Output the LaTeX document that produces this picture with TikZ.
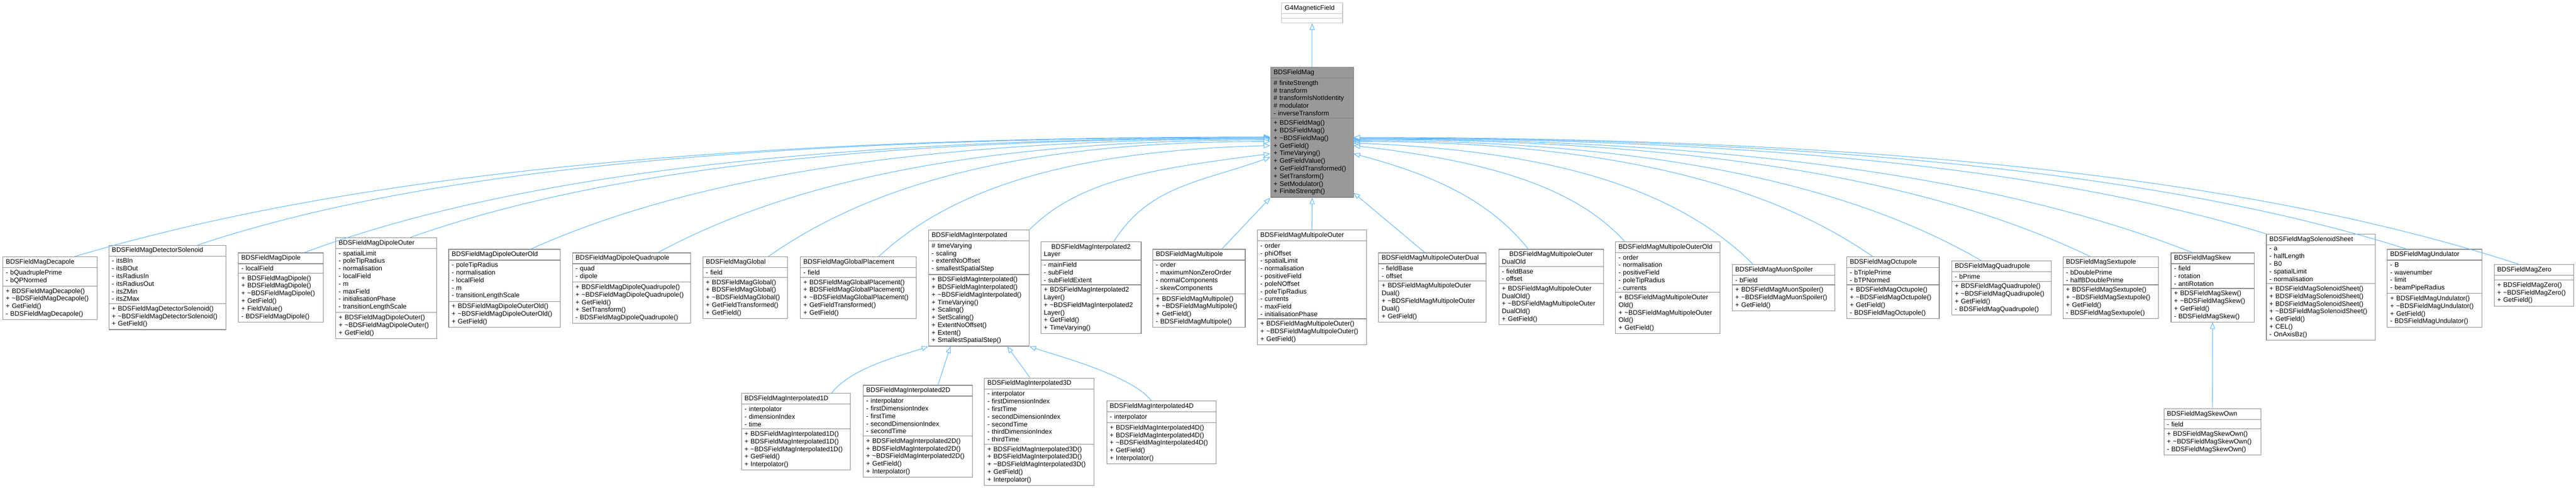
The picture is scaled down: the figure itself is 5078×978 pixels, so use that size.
\documentclass[tikz,border=0pt]{standalone}
\usepackage{fontspec}
\setmainfont{Liberation Sans}
\usetikzlibrary{shapes.multipart,arrows.meta}
\definecolor{edgec}{HTML}{63B8FF}
\definecolor{boxc}{HTML}{888888}
\newcommand\tl{\textasciitilde}
\tikzset{
 cls/.style={rectangle split, rectangle split parts=3, draw=boxc, fill=white, line width=1.2pt,
   text width=#1, inner xsep=6pt, inner ysep=4pt, font=\fontsize{13}{15}\selectfont, align=left, anchor=north west},
 inh/.style={draw=edgec, line width=1.1pt, -{Triangle[open,length=13pt,width=10pt,fill=white]}}
}
\newcommand\cls[8][]{\pgfmathsetmacro\tw{#4-12}%
 \node[cls=\tw pt,#1] (#2) at (#3,#5) {\centering #6\nodepart{two}#7\nodepart{three}#8};}
\begin{document}
\begin{tikzpicture}[x=1pt,y=-1pt]
\useasboundingbox (0,0) rectangle (5078,978);
\cls[draw=boxc!50]{g4}{2526}{120}{5}{G4MagneticField}{\mbox{}}{\mbox{}}
\cls[fill=gray!80,draw=gray]{fm}{2504}{164}{132}{BDSFieldMag}{\# finiteStrength\\\# transform\\\# transformIsNotIdentity\\\# modulator\\- inverseTransform}{+ BDSFieldMag()\\+ BDSFieldMag()\\+ \tl BDSFieldMag()\\+ GetField()\\+ TimeVarying()\\+ GetFieldValue()\\+ GetFieldTransformed()\\+ SetTransform()\\+ SetModulator()\\+ FiniteStrength()}
\cls{dec}{5}{186}{506}{BDSFieldMagDecapole}{- bQuadruplePrime\\- bQPNormed}{+ BDSFieldMagDecapole()\\+ \tl BDSFieldMagDecapole()\\+ GetField()\\- BDSFieldMagDecapole()}
\cls{det}{214}{231}{483}{BDSFieldMagDetectorSolenoid}{- itsBIn\\- itsBOut\\- itsRadiusIn\\- itsRadiusOut\\- itsZMin\\- itsZMax}{+ BDSFieldMagDetectorSolenoid()\\+ \tl BDSFieldMagDetectorSolenoid()\\+ GetField()}
\cls{dip}{469}{168}{498}{BDSFieldMagDipole}{- localField}{+ BDSFieldMagDipole()\\+ BDSFieldMagDipole()\\+ \tl BDSFieldMagDipole()\\+ GetField()\\+ FieldValue()\\- BDSFieldMagDipole()}
\cls{dipo}{661}{199}{468}{BDSFieldMagDipoleOuter}{- spatialLimit\\- poleTipRadius\\- normalisation\\- localField\\- m\\- maxField\\- initialisationPhase\\- transitionLengthScale}{+ BDSFieldMagDipoleOuter()\\+ \tl BDSFieldMagDipoleOuter()\\+ GetField()}
\cls{dipoo}{884}{220}{491}{BDSFieldMagDipoleOuterOld}{- poleTipRadius\\- normalisation\\- localField\\- m\\- transitionLengthScale}{+ BDSFieldMagDipoleOuterOld()\\+ \tl BDSFieldMagDipoleOuterOld()\\+ GetField()}
\cls{dq}{1128}{233}{498}{BDSFieldMagDipoleQuadrupole}{- quad\\- dipole}{+ BDSFieldMagDipoleQuadrupole()\\+ \tl BDSFieldMagDipoleQuadrupole()\\+ GetField()\\+ SetTransform()\\- BDSFieldMagDipoleQuadrupole()}
\cls{glo}{1385}{167}{506}{BDSFieldMagGlobal}{- field}{+ BDSFieldMagGlobal()\\+ BDSFieldMagGlobal()\\+ \tl BDSFieldMagGlobal()\\+ GetFieldTransformed()\\+ GetField()}
\cls{glp}{1577}{229}{506}{BDSFieldMagGlobalPlacement}{- field}{+ BDSFieldMagGlobalPlacement()\\+ BDSFieldMagGlobalPlacement()\\+ \tl BDSFieldMagGlobalPlacement()\\+ GetFieldTransformed()\\+ GetField()}
\cls{int}{1830}{198}{453}{BDSFieldMagInterpolated}{\# timeVarying\\- scaling\\- extentNoOffset\\- smallestSpatialStep}{+ BDSFieldMagInterpolated()\\+ BDSFieldMagInterpolated()\\+ \tl BDSFieldMagInterpolated()\\+ TimeVarying()\\+ Scaling()\\+ SetScaling()\\+ ExtentNoOffset()\\+ Extent()\\+ SmallestSpatialStep()}
\cls{i2l}{2051}{198}{476}{BDSFieldMagInterpolated2\\Layer}{- mainField\\- subField\\- subFieldExtent}{+ BDSFieldMagInterpolated2\\Layer()\\+ \tl BDSFieldMagInterpolated2\\Layer()\\+ GetField()\\+ TimeVarying()}
\cls{mp}{2272}{182}{491}{BDSFieldMagMultipole}{- order\\- maximumNonZeroOrder\\- normalComponents\\- skewComponents}{+ BDSFieldMagMultipole()\\+ \tl BDSFieldMagMultipole()\\+ GetField()\\- BDSFieldMagMultipole()}
\cls{mpo}{2478}{215}{453}{BDSFieldMagMultipoleOuter}{- order\\- phiOffset\\- spatialLimit\\- normalisation\\- positiveField\\- poleNOffset\\- poleTipRadius\\- currents\\- maxField\\- initialisationPhase}{+ BDSFieldMagMultipoleOuter()\\+ \tl BDSFieldMagMultipoleOuter()\\+ GetField()}
\cls{mpd}{2717}{212}{498}{BDSFieldMagMultipoleOuterDual}{- fieldBase\\- offset}{+ BDSFieldMagMultipoleOuter\\Dual()\\+ \tl BDSFieldMagMultipoleOuter\\Dual()\\+ GetField()}
\cls{mpdo}{2954}{206}{491}{BDSFieldMagMultipoleOuter\\DualOld}{- fieldBase\\- offset}{+ BDSFieldMagMultipoleOuter\\DualOld()\\+ \tl BDSFieldMagMultipoleOuter\\DualOld()\\+ GetField()}
\cls{mpoo}{3184}{206}{476}{BDSFieldMagMultipoleOuterOld}{- order\\- normalisation\\- positiveField\\- poleTipRadius\\- currents}{+ BDSFieldMagMultipoleOuter\\Old()\\+ \tl BDSFieldMagMultipoleOuter\\Old()\\+ GetField()}
\cls{mu}{3414}{202}{521}{BDSFieldMagMuonSpoiler}{- bField}{+ BDSFieldMagMuonSpoiler()\\+ \tl BDSFieldMagMuonSpoiler()\\+ GetField()}
\cls{oct}{3640}{182}{506}{BDSFieldMagOctupole}{- bTriplePrime\\- bTPNormed}{+ BDSFieldMagOctupole()\\+ \tl BDSFieldMagOctupole()\\+ GetField()\\- BDSFieldMagOctupole()}
\cls{quad}{3847}{196}{514}{BDSFieldMagQuadrupole}{- bPrime}{+ BDSFieldMagQuadrupole()\\+ \tl BDSFieldMagQuadrupole()\\+ GetField()\\- BDSFieldMagQuadrupole()}
\cls{sext}{4066}{188}{506}{BDSFieldMagSextupole}{- bDoublePrime\\- halfBDoublePrime}{+ BDSFieldMagSextupole()\\+ \tl BDSFieldMagSextupole()\\+ GetField()\\- BDSFieldMagSextupole()}
\cls{skew}{4279}{164}{498}{BDSFieldMagSkew}{- field\\- rotation\\- antiRotation}{+ BDSFieldMagSkew()\\+ \tl BDSFieldMagSkew()\\+ GetField()\\- BDSFieldMagSkew()}
\cls{sol}{4467}{215}{461}{BDSFieldMagSolenoidSheet}{- a\\- halfLength\\- B0\\- spatialLimit\\- normalisation}{+ BDSFieldMagSolenoidSheet()\\+ BDSFieldMagSolenoidSheet()\\+ BDSFieldMagSolenoidSheet()\\+ \tl BDSFieldMagSolenoidSheet()\\+ GetField()\\+ CEL()\\- OnAxisBz()}
\cls{und}{4705}{187}{491}{BDSFieldMagUndulator}{- B\\- wavenumber\\- limit\\- beamPipeRadius}{+ BDSFieldMagUndulator()\\+ \tl BDSFieldMagUndulator()\\+ GetField()\\- BDSFieldMagUndulator()}
\cls{zero}{4916}{157}{521}{BDSFieldMagZero}{\mbox{}}{+ BDSFieldMagZero()\\+ \tl BDSFieldMagZero()\\+ GetField()}
\cls{skewo}{4265}{191}{805}{BDSFieldMagSkewOwn}{- field}{+ BDSFieldMagSkewOwn()\\+ \tl BDSFieldMagSkewOwn()\\- BDSFieldMagSkewOwn()}
\cls{i1}{1461}{215}{775}{BDSFieldMagInterpolated1D}{- interpolator\\- dimensionIndex\\- time}{+ BDSFieldMagInterpolated1D()\\+ BDSFieldMagInterpolated1D()\\+ \tl BDSFieldMagInterpolated1D()\\+ GetField()\\+ Interpolator()}
\cls{i2}{1701}{215}{759}{BDSFieldMagInterpolated2D}{- interpolator\\- firstDimensionIndex\\- firstTime\\- secondDimensionIndex\\- secondTime}{+ BDSFieldMagInterpolated2D()\\+ BDSFieldMagInterpolated2D()\\+ \tl BDSFieldMagInterpolated2D()\\+ GetField()\\+ Interpolator()}
\cls{i3}{1940}{216}{745}{BDSFieldMagInterpolated3D}{- interpolator\\- firstDimensionIndex\\- firstTime\\- secondDimensionIndex\\- secondTime\\- thirdDimensionIndex\\- thirdTime}{+ BDSFieldMagInterpolated3D()\\+ BDSFieldMagInterpolated3D()\\+ \tl BDSFieldMagInterpolated3D()\\+ GetField()\\+ Interpolator()}
\cls{i4}{2181}{216}{790}{BDSFieldMagInterpolated4D}{- interpolator}{+ BDSFieldMagInterpolated4D()\\+ BDSFieldMagInterpolated4D()\\+ \tl BDSFieldMagInterpolated4D()\\+ GetField()\\+ Interpolator()}
% endpoints on BDSFieldMag
\foreach \n/\y in {L1/270,L2/271,L3/272,L4/273,L5/274,L6/276,L7/279,L8/287,L9/303,L10/310,L11/390}{\coordinate (\n) at (2504,\y);}
\foreach \n/\y in {R1/271,R2/272,R3/273,R4/274,R5/275,R6/277,R7/279,R8/282,R9/287,R10/303,R11/380}{\coordinate (\n) at (2668,\y);}
\draw[inh] (fm.north) -- (g4.south);
\draw[inh] ([xshift=48pt]dec.north) .. controls +(470,-140) and +(-1200,0) .. (L1);
\draw[inh] ([xshift=60pt]det.north) .. controls +(420,-140) and +(-1050,0) .. (L2);
\draw[inh] ([xshift=46pt]dip.north) .. controls +(380,-140) and +(-950,0) .. (L3);
\draw[inh] ([xshift=48pt]dipo.north) .. controls +(340,-120) and +(-850,0) .. (L4);
\draw[inh] ([xshift=52pt]dipoo.north) .. controls +(290,-130) and +(-730,0) .. (L5);
\draw[inh] ([xshift=52pt]dq.north) .. controls +(240,-130) and +(-600,0) .. (L6);
\draw[inh] ([xshift=45pt]glo.north) .. controls +(200,-140) and +(-500,0) .. (L7);
\draw[inh] ([xshift=40pt]glp.north) .. controls +(150,-140) and +(-380,10) .. (L8);
\draw[inh] (int.north east) .. controls +(100,-100) and +(-230,30) .. (L9);
\draw[inh] ([xshift=45pt]i2l.north) .. controls +(70,-110) and +(-140,50) .. (L10);
\draw[inh] ([xshift=45pt]mp.north) -- (L11);
\draw[inh] (mpo.north) -- (fm.south);
\draw[inh] ([xshift=-15pt]mpd.north) -- (R11);
\draw[inh] ([xshift=-45pt]mpdo.north) .. controls +(-80,-100) and +(150,40) .. (R10);
\draw[inh] ([xshift=-85pt]mpoo.north) .. controls +(-100,-110) and +(260,30) .. (R9);
\draw[inh] ([xshift=-60pt]mu.north) .. controls +(-150,-150) and +(390,15) .. (R8);
\draw[inh] ([xshift=-40pt]oct.north) .. controls +(-200,-140) and +(510,0) .. (R7);
\draw[inh] ([xshift=-40pt]quad.north) .. controls +(-240,-140) and +(620,0) .. (R6);
\draw[inh] ([xshift=-40pt]sext.north) .. controls +(-290,-140) and +(720,0) .. (R5);
\draw[inh] ([xshift=-40pt]skew.north) .. controls +(-330,-130) and +(820,0) .. (R4);
\draw[inh] (sol.north west) .. controls +(-360,-110) and +(900,0) .. (R3);
\draw[inh] ([xshift=-55pt]und.north) .. controls +(-410,-130) and +(1030,0) .. (R2);
\draw[inh] ([xshift=-30pt]zero.north) .. controls +(-460,-150) and +(1150,0) .. (R1);
\draw[inh] (skewo.north) -- (skew.south);
\draw[inh] ([xshift=70pt]i1.north) .. controls +(40,-50) and +(-60,20) .. (int.south west);
\draw[inh] ([xshift=40pt]i2.north) -- ([xshift=-56pt]int.south);
\draw[inh] ([xshift=-18pt]i3.north) -- ([xshift=56pt]int.south);
\draw[inh] ([xshift=-20pt]i4.north) .. controls +(-40,-50) and +(60,20) .. (int.south east);
\end{tikzpicture}
\end{document}
